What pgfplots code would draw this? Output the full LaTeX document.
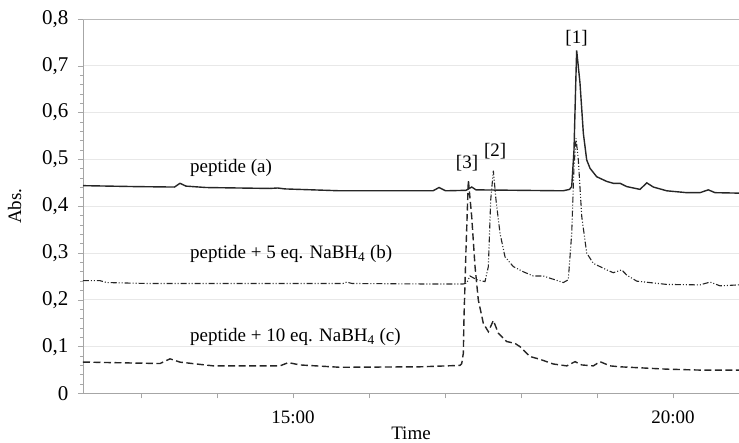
\documentclass[border=0pt]{standalone}
\usepackage{fontspec}
\setmainfont{Liberation Serif}
\usepackage{pgfplots}
\pgfplotsset{compat=1.18}

% chromatograms, time in minutes
\pgfplotstableread{
t      v
12.237 0.444
12.916 0.442
13.441 0.441
13.513 0.449
13.592 0.443
13.855 0.440
14.697 0.438
14.796 0.439
14.895 0.437
15.625 0.433
16.842 0.433
16.921 0.440
17.007 0.433
17.276 0.434
17.351 0.441
17.408 0.435
18.553 0.433
18.638 0.436
18.667 0.442
18.697 0.520
18.720 0.663
18.732 0.733
18.776 0.663
18.820 0.556
18.864 0.499
18.908 0.481
18.996 0.463
19.128 0.453
19.214 0.449
19.303 0.449
19.391 0.442
19.566 0.436
19.654 0.450
19.741 0.441
19.917 0.433
20.180 0.429
20.355 0.429
20.464 0.435
20.553 0.429
20.868 0.428
}\peptideA

\pgfplotstableread{
t      v
12.237 0.241
12.461 0.241
12.549 0.237
13.075 0.235
14.391 0.235
15.658 0.235
15.707 0.238
15.776 0.235
16.671 0.234
17.241 0.234
17.286 0.236
17.329 0.251
17.417 0.243
17.526 0.239
17.570 0.271
17.601 0.413
17.636 0.476
17.671 0.413
17.724 0.342
17.789 0.292
17.899 0.271
18.030 0.260
18.162 0.251
18.293 0.251
18.425 0.244
18.557 0.237
18.622 0.243
18.667 0.342
18.697 0.485
18.724 0.545
18.754 0.499
18.799 0.378
18.864 0.300
18.951 0.278
19.128 0.264
19.214 0.258
19.325 0.264
19.391 0.253
19.522 0.240
19.917 0.233
20.355 0.232
20.487 0.238
20.618 0.230
20.868 0.232
}\peptideB

\pgfplotstableread{
t      v
12.237 0.067
12.286 0.067
13.250 0.064
13.382 0.074
13.513 0.067
13.951 0.059
14.829 0.059
14.938 0.066
15.092 0.061
15.618 0.056
16.671 0.057
17.197 0.060
17.220 0.064
17.241 0.086
17.250 0.164
17.276 0.307
17.307 0.456
17.351 0.378
17.395 0.271
17.438 0.200
17.504 0.150
17.570 0.132
17.636 0.156
17.701 0.129
17.812 0.111
17.921 0.107
17.987 0.100
18.118 0.079
18.250 0.073
18.425 0.063
18.601 0.059
18.711 0.068
18.799 0.061
18.951 0.059
19.039 0.068
19.171 0.059
19.303 0.057
19.917 0.052
20.355 0.050
20.868 0.050
}\peptideC

\begin{document}
\fontsize{19}{22}\selectfont
\begin{tikzpicture}
\begin{axis}[
  scale only axis,
  width=656pt, height=374.5pt,
  xmin=12.237, xmax=20.868,
  ymin=0, ymax=0.8,
  axis x line*=bottom,
  axis y line*=left,
  axis line style={gray!70, line width=0.8pt, -},
  xtick={13,14,15,16,17,18,19,20},
  xticklabels={,,15:00,,,,,20:00},
  ytick={0,0.1,0.2,0.3,0.4,0.5,0.6,0.7},
  minor y tick num=4,
  extra y ticks={0.8},
  extra y tick style={grid style={gray!55, line width=0.8pt}},
  tick align=outside,
  major tick length=5pt,
  minor tick length=3pt,
  tick style={gray!70, line width=0.6pt},
  ymajorgrids,
  grid style={gray!18, line width=0.8pt},
  /pgf/number format/.cd, use comma, fixed, precision=1, assume math mode=true,
  /pgfplots/.cd,
  every tick label/.append style={text=black},
  xticklabel style={yshift=-6pt, font=\fontsize{19}{22}\selectfont},
  yticklabel style={xshift=-3pt, font=\fontsize{21}{24}\selectfont},
  xlabel={Time},
  ylabel={Abs.},
  xlabel style={at={(axis description cs:0.5,-0.107)}, anchor=center, font=\fontsize{19}{22}\selectfont},
  ylabel style={at={(axis description cs:-0.104,0.5)}, anchor=center, font=\fontsize{19}{22}\selectfont},
  every axis plot/.append style={line width=1.4pt, black!85},
]
\addplot[solid] table[x=t, y=v] {\peptideA};
\addplot[dash pattern=on 6pt off 2pt on 1pt off 2pt on 1pt off 2pt, line width=1.1pt] table[x=t, y=v] {\peptideB};
\addplot[dash pattern=on 7pt off 3.5pt] table[x=t, y=v] {\peptideC};

\node[anchor=west, inner sep=0pt] at (13.645,0.482) {peptide (a)};
\node[anchor=west, inner sep=0pt] at (13.645,0.298) {peptide + 5 eq. NaBH\textsubscript{4} (b)};
\node[anchor=west, inner sep=0pt] at (13.645,0.121) {peptide + 10 eq. NaBH\textsubscript{4} (c)};
\node at (18.73,0.760) {[1]};
\node at (17.66,0.517) {[2]};
\node at (17.29,0.493) {[3]};
\end{axis}
\pgfresetboundingbox
\path[use as bounding box] ([xshift=-83pt,yshift=-49.5pt]current axis.south west) rectangle ([yshift=19pt]current axis.north east);
\end{tikzpicture}
\end{document}
